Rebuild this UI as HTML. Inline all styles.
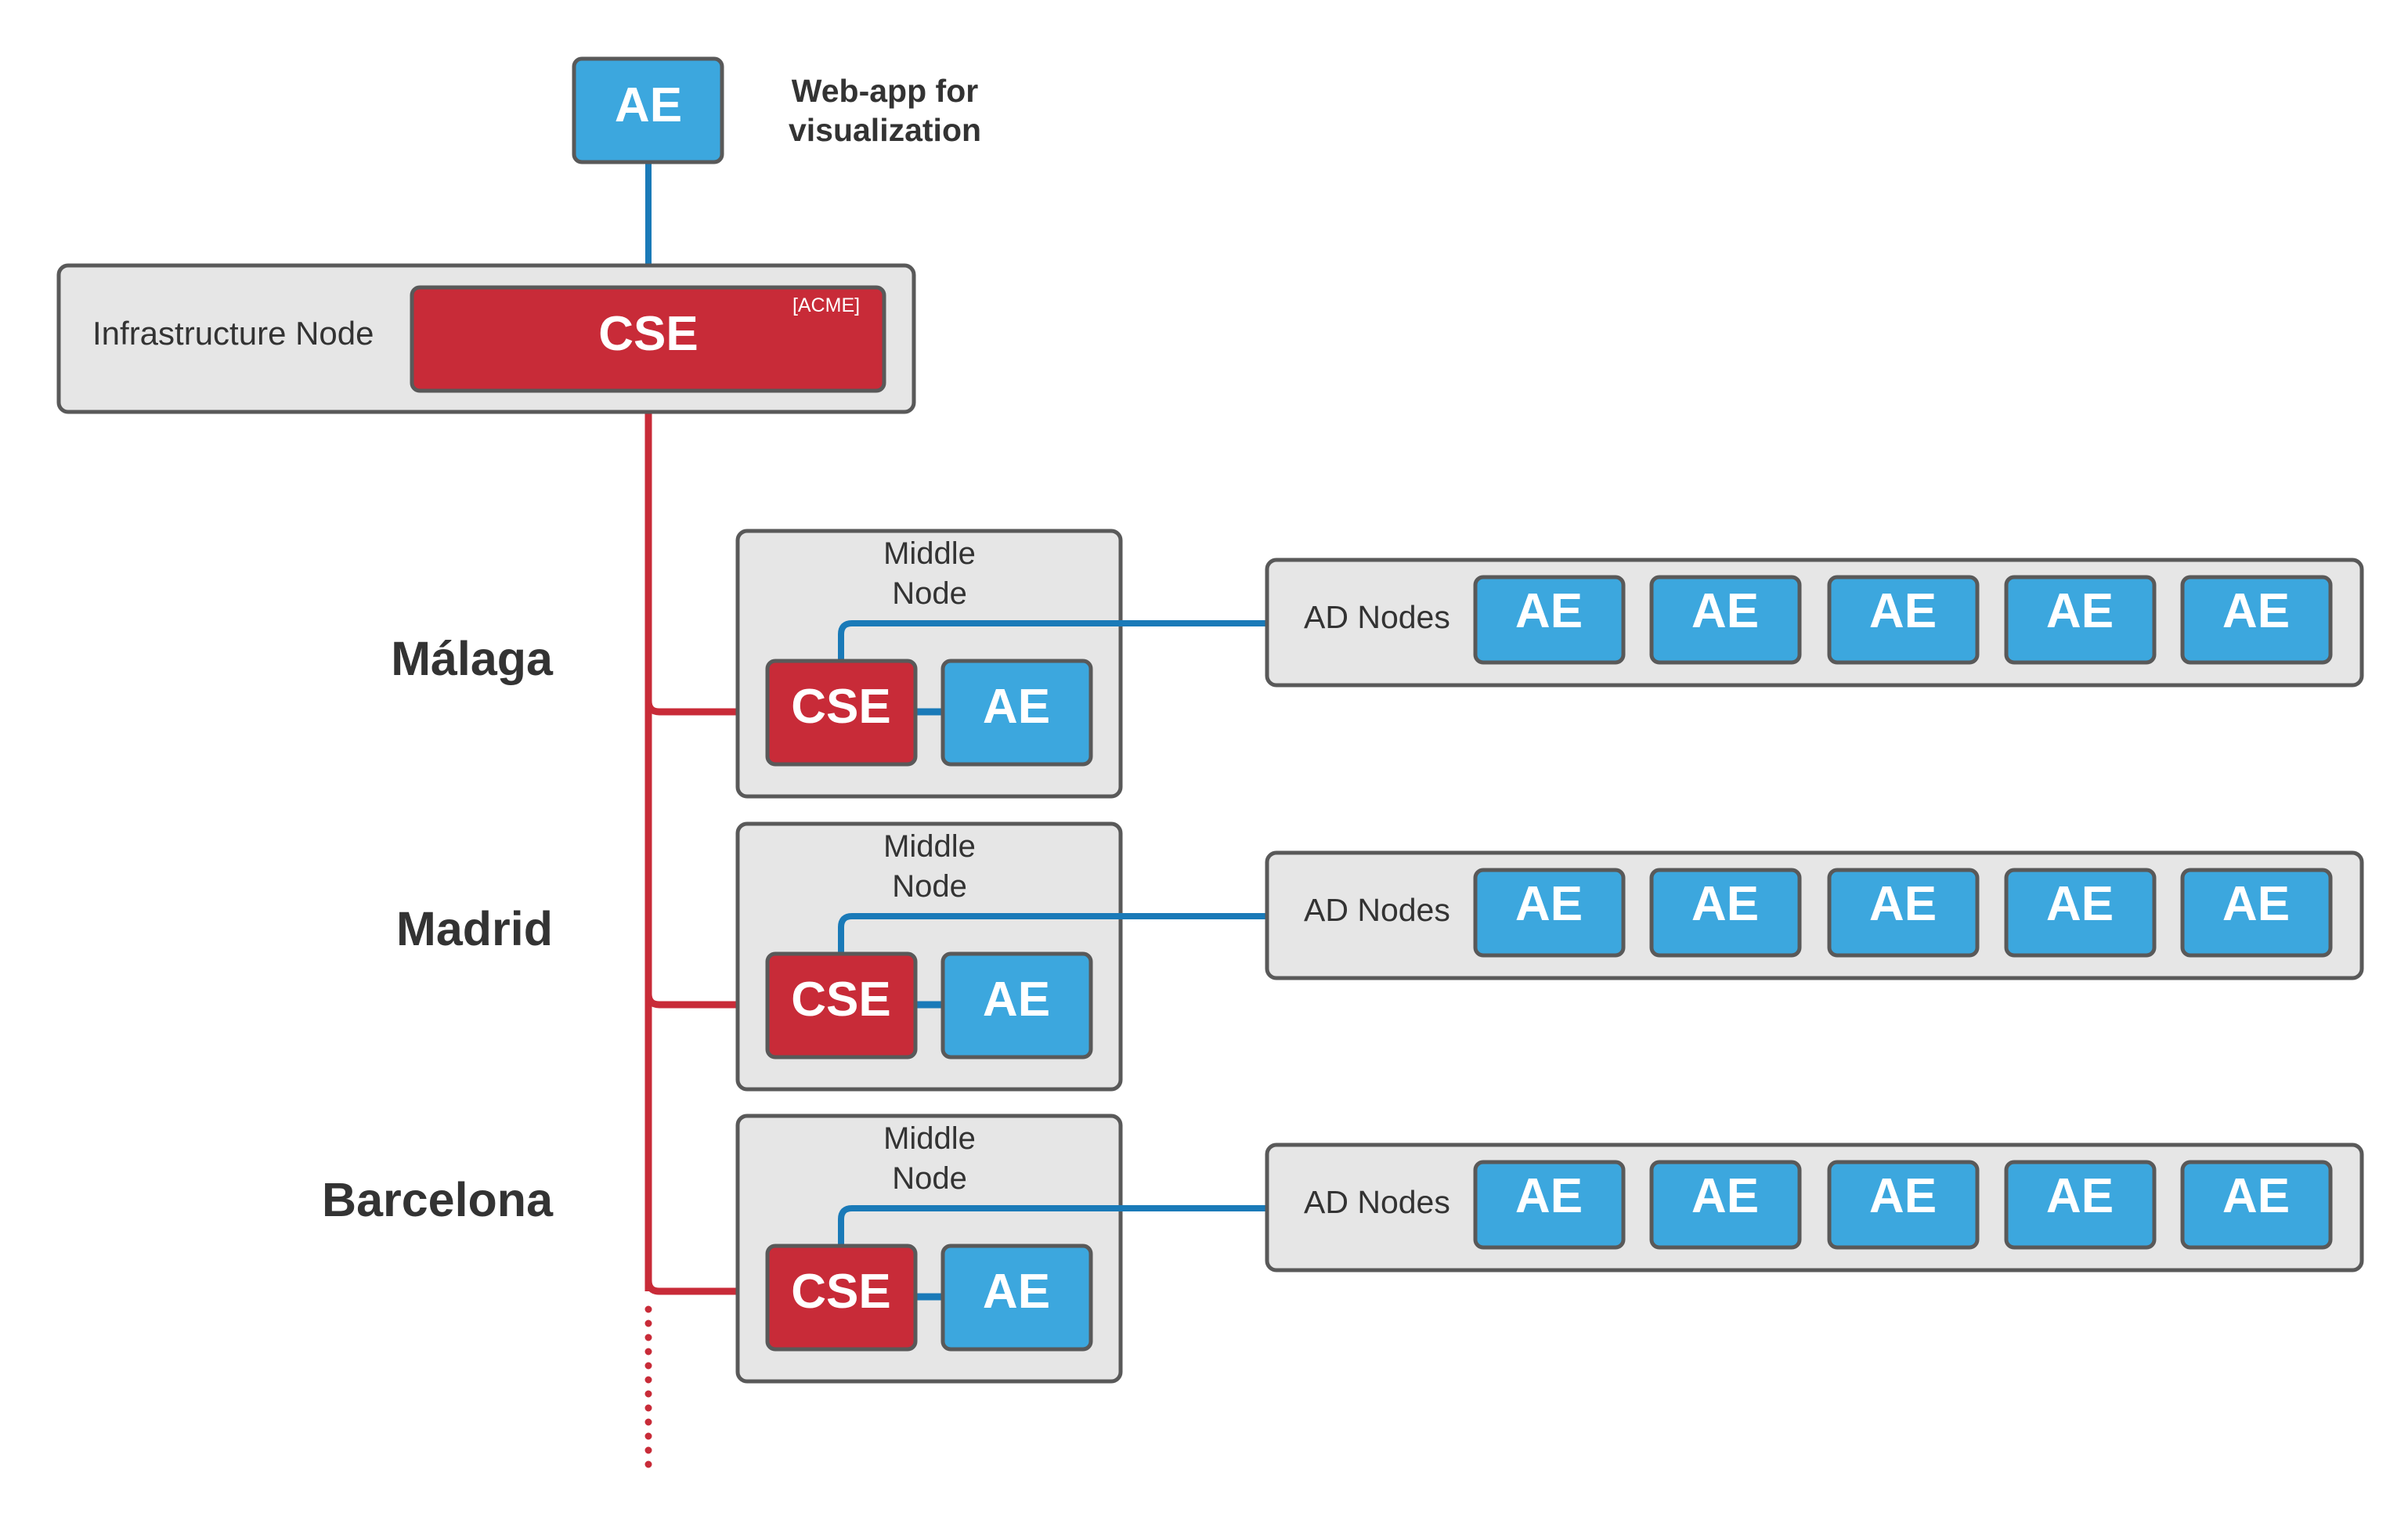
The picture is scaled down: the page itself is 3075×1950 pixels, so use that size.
<!DOCTYPE html>
<html><head><meta charset="utf-8"><style>
html,body{margin:0;padding:0;background:#fff;}
svg{display:block;}
text{font-family:"Liberation Sans",sans-serif;}
</style></head><body>
<svg width="3075" height="1950" viewBox="0 0 3075 1950" xmlns="http://www.w3.org/2000/svg">
<line x1="828" y1="207" x2="828" y2="367" stroke="#1a7ab8" stroke-width="8"/>
<path d="M828 499 V1649" stroke="#c82b38" stroke-width="9" fill="none"/>
<line x1="828" y1="1672" x2="828" y2="1880" stroke="#c82b38" stroke-width="9" stroke-linecap="round" stroke-dasharray="0 18"/>
<g fill="none" stroke-width="9">
<path d="M828 895 Q828 909 842 909 H980" stroke="#c82b38"/>
<path d="M828 1269 Q828 1283 842 1283 H980" stroke="#c82b38"/>
<path d="M828 1635 Q828 1649 842 1649 H980" stroke="#c82b38"/>
</g>

<rect x="75" y="339" width="1092" height="187" rx="12" fill="#e6e6e6" stroke="#595959" stroke-width="5"/>
<text x="118" y="440" font-size="42" fill="#333">Infrastructure Node</text>
<rect x="526" y="367" width="603" height="132" rx="10" fill="#c82b38" stroke="#595959" stroke-width="5"/>
<text x="828" y="447" font-size="62" font-weight="bold" fill="#fff" text-anchor="middle">CSE</text>
<text x="1055" y="398" font-size="25" fill="#fff" text-anchor="middle">[ACME]</text>

<rect x="733" y="75" width="189" height="132" rx="10" fill="#3ca7de" stroke="#595959" stroke-width="5"/>
<text x="828" y="155" font-size="62" font-weight="bold" fill="#fff" text-anchor="middle">AE</text>
<text x="1130" y="130" font-size="41" font-weight="bold" fill="#333" text-anchor="middle">Web-app for</text>
<text x="1130" y="180" font-size="41" font-weight="bold" fill="#333" text-anchor="middle">visualization</text>

<text x="706" y="862" font-size="61" font-weight="bold" fill="#333" text-anchor="end">Málaga</text>
<text x="706" y="1207" font-size="61" font-weight="bold" fill="#333" text-anchor="end">Madrid</text>
<text x="706" y="1553" font-size="61" font-weight="bold" fill="#333" text-anchor="end">Barcelona</text>

<defs>
<g id="mid">
<rect x="942" y="0" width="489" height="339" rx="12" fill="#e6e6e6" stroke="#595959" stroke-width="5"/>
<text x="1187" y="42" font-size="40" fill="#333" text-anchor="middle">Middle</text>
<text x="1187" y="93" font-size="40" fill="#333" text-anchor="middle">Node</text>
<path d="M1074 166 V132 Q1074 118 1088 118 H1618" stroke="#1a7ab8" stroke-width="8" fill="none"/>
<line x1="1169" y1="231" x2="1204" y2="231" stroke="#1a7ab8" stroke-width="9"/>
<rect x="980" y="166" width="189" height="132" rx="10" fill="#c82b38" stroke="#595959" stroke-width="5"/>
<text x="1074" y="245" font-size="62" font-weight="bold" fill="#fff" text-anchor="middle">CSE</text>
<rect x="1204" y="166" width="189" height="132" rx="10" fill="#3ca7de" stroke="#595959" stroke-width="5"/>
<text x="1298" y="245" font-size="62" font-weight="bold" fill="#fff" text-anchor="middle">AE</text>
<rect x="1618" y="37" width="1398" height="160" rx="12" fill="#e6e6e6" stroke="#595959" stroke-width="5"/>
<text x="1665" y="124" font-size="41" fill="#333">AD Nodes</text>
<rect x="1884" y="59" width="189" height="109" rx="10" fill="#3ca7de" stroke="#595959" stroke-width="5"/>
<rect x="2109" y="59" width="189" height="109" rx="10" fill="#3ca7de" stroke="#595959" stroke-width="5"/>
<rect x="2336" y="59" width="189" height="109" rx="10" fill="#3ca7de" stroke="#595959" stroke-width="5"/>
<rect x="2562" y="59" width="189" height="109" rx="10" fill="#3ca7de" stroke="#595959" stroke-width="5"/>
<rect x="2787" y="59" width="189" height="109" rx="10" fill="#3ca7de" stroke="#595959" stroke-width="5"/>
<g font-size="62" font-weight="bold" fill="#fff" text-anchor="middle">
<text x="1978" y="123">AE</text><text x="2203" y="123">AE</text><text x="2430" y="123">AE</text><text x="2656" y="123">AE</text><text x="2881" y="123">AE</text>
</g>
</g>
</defs>
<use href="#mid" transform="translate(0,678)"/>
<use href="#mid" transform="translate(0,1052)"/>
<use href="#mid" transform="translate(0,1425)"/>
</svg>
</body></html>
